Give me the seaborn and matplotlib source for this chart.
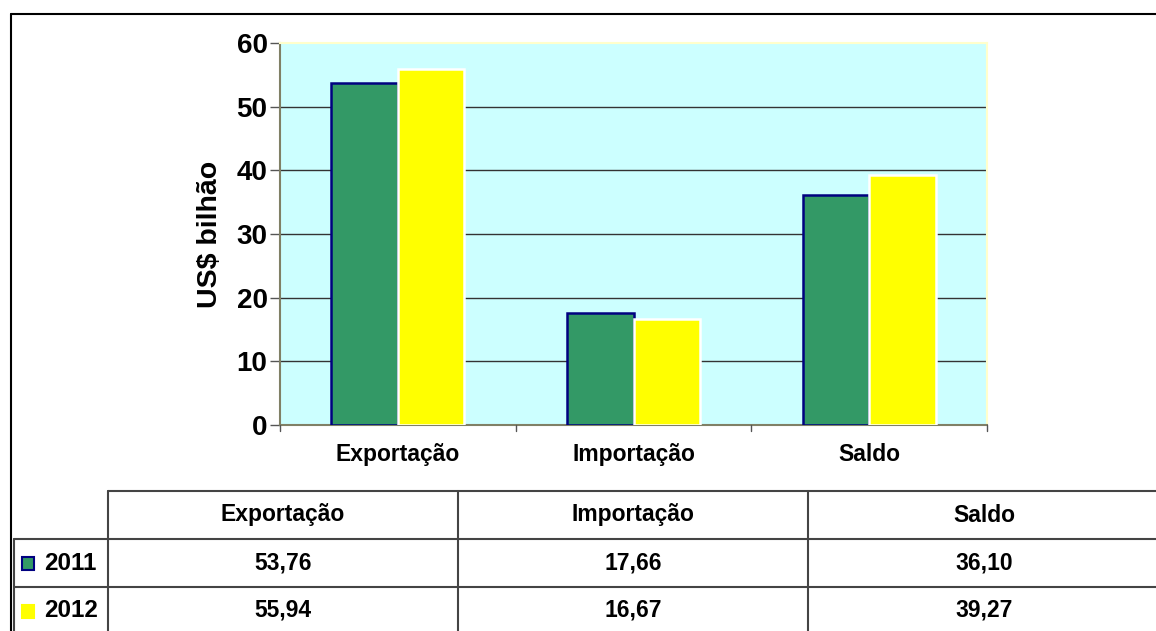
import matplotlib
matplotlib.use("Agg")
import matplotlib.pyplot as plt
from matplotlib.lines import Line2D
from matplotlib.patches import Rectangle
import pandas as pd
import seaborn as sns

categories = ["Exportação", "Importação", "Saldo"]
years = ["2011", "2012"]
values_2011 = [53.76, 17.66, 36.10]
values_2012 = [55.94, 16.67, 39.27]
y_ticks = [0, 10, 20, 30, 40, 50, 60]

colors = {"2011": "#339966", "2012": "#FFFF00"}
edges = {"2011": "#000080", "2012": "#FFFFFF"}

df = pd.DataFrame({
    "categoria": categories * 2,
    "ano": [years[0]] * 3 + [years[1]] * 3,
    "valor": values_2011 + values_2012,
})

sns.set_style("white")
plt.rcParams["font.family"] = ["Liberation Sans", "DejaVu Sans"]
plt.rcParams["font.weight"] = "bold"
plt.rcParams["text.color"] = "black"
plt.rcParams["xtick.color"] = "black"
plt.rcParams["ytick.color"] = "black"
plt.rcParams["axes.labelcolor"] = "black"

W, H = 1156, 631
fig = plt.figure(figsize=(W / 100, H / 100), dpi=100)


def fx(x):
    return x / W


def fy(y):
    return 1 - y / H


ax = fig.add_axes([fx(280), fy(425), fx(987) - fx(280), fy(43) - fy(425)])
ax.set_facecolor("#CCFFFF")

sns.barplot(data=df, x="categoria", y="valor", hue="ano", order=categories,
            hue_order=years, palette=colors, width=0.565, ax=ax,
            legend=False, saturation=1)
for patch, yr in zip(ax.patches, [y for y in years for _ in categories]):
    patch.set_edgecolor(edges[yr])
    patch.set_linewidth(1.8)
    patch.set_zorder(3)

ax.set_xlim(-0.5, len(categories) - 0.5)
ax.set_ylim(0, 60)
ax.set_yticks(y_ticks)
ax.set_yticklabels([str(t) for t in y_ticks], fontsize=20, fontweight="bold")
for t in y_ticks[1:-1]:
    ax.axhline(t, color="#333333", lw=1.0, zorder=1)

ax.set_xticks(range(len(categories)))
ax.set_xticklabels(categories, fontsize=16.5, fontweight="bold")
ax.tick_params(axis="x", length=0, pad=13)
ax.tick_params(axis="y", length=7, width=1, color="#555555", pad=2, left=True)
for b in [-0.5 + i for i in range(len(categories) + 1)]:
    ax.plot([b, b], [0, -1.0], color="#555555", lw=1, clip_on=False, zorder=5)

ax.set_xlabel("")
ax.set_ylabel("US$ bilhão", fontsize=20.5, fontweight="bold", labelpad=10)

for side in ["top", "right"]:
    ax.spines[side].set_color("#FFFFCC")
    ax.spines[side].set_linewidth(1.5)
for side in ["left", "bottom"]:
    ax.spines[side].set_color("#808066")
    ax.spines[side].set_linewidth(1.5)
    ax.spines[side].set_visible(True)

# outer frame
fig.add_artist(Line2D([fx(11), 1], [fy(14), fy(14)], color="black", lw=1.5))
fig.add_artist(Line2D([fx(11), fx(11)], [fy(14), 0], color="black", lw=1.5))

# data table
tc = "#444444"
col_x = [14, 108, 458, 808, 1160]
row_y = [491, 539, 587, 634]
fig.add_artist(Line2D([fx(108), 1], [fy(row_y[0])] * 2, color=tc, lw=1.5))
for yy in row_y[1:]:
    fig.add_artist(Line2D([fx(14), 1], [fy(yy)] * 2, color=tc, lw=1.5))
fig.add_artist(Line2D([fx(14), fx(14)], [fy(row_y[1]), 0], color=tc, lw=1.5))
for xx in col_x[1:4]:
    fig.add_artist(Line2D([fx(xx), fx(xx)], [fy(row_y[0]), 0], color=tc, lw=1.5))

for i, cat in enumerate(categories):
    cx = (col_x[i + 1] + col_x[i + 2]) / 2
    fig.text(fx(cx), fy((row_y[0] + row_y[1]) / 2), cat, ha="center",
             va="center", fontsize=16.5, fontweight="bold")
    for r, vals in enumerate([values_2011, values_2012]):
        txt = f"{vals[i]:.2f}".replace(".", ",")
        fig.text(fx(cx), fy((row_y[r + 1] + row_y[r + 2]) / 2), txt,
                 ha="center", va="center", fontsize=16.5, fontweight="bold")

for r, yr in enumerate(years):
    yc = (row_y[r + 1] + row_y[r + 2]) / 2
    fig.add_artist(Rectangle((fx(22), fy(yc + 7)), fx(12), fy(0) - fy(13),
                             facecolor=colors[yr],
                             edgecolor=edges[yr] if yr == "2011" else colors[yr],
                             lw=1.5))
    fig.text(fx(44), fy(yc), yr, ha="left", va="center", fontsize=17.5,
             fontweight="bold")

fig.savefig("out.png", dpi=100)
